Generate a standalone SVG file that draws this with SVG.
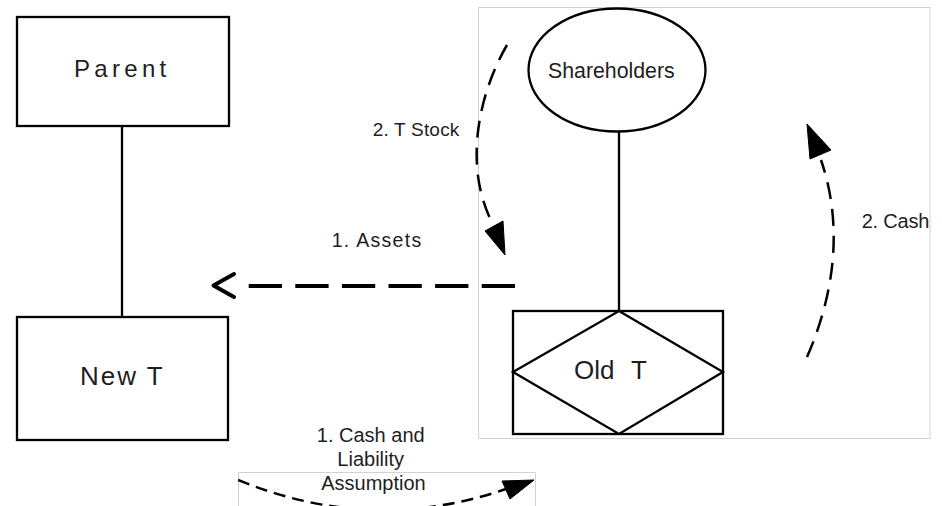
<svg xmlns="http://www.w3.org/2000/svg" width="942" height="506" viewBox="0 0 942 506">
  <style>
    .box { fill: #ffffff; stroke: #000000; stroke-width: 2.3; }
    .frame { fill: none; stroke: #d2d2d2; stroke-width: 1; }
    .link { fill: none; stroke: #000000; stroke-width: 2.3; }
    .flow { fill: none; stroke: #000000; stroke-width: 2.5; stroke-dasharray: 17 10; }
    .flow-bold { fill: none; stroke: #000000; stroke-width: 4; stroke-dasharray: 33.3 13.3; }
    .head { fill: #000000; stroke: #000000; stroke-width: 1; stroke-linejoin: round; }
    .lbl { font-family: "Liberation Sans", Arial, sans-serif; fill: #1e1e1e; }
  </style>
  <defs>
    <clipPath id="lowerPanel">
      <rect x="238" y="472" width="297" height="40"/>
    </clipPath>
  </defs>

  <rect width="942" height="506" fill="#ffffff"/>

  <!-- panel outlines -->
  <rect class="frame" x="478.5" y="7.5" width="451.5" height="431"/>
  <path class="frame" d="M238.5,506 V472.5 H535.5 V506"/>

  <!-- structure lines and transfer arrows -->
  <g id="connectors">
    <line class="link" x1="122" y1="126" x2="122" y2="317"/>
    <line class="link" x1="619" y1="131.5" x2="619" y2="311"/>

    <!-- 1. Assets -->
    <path class="flow-bold" d="M515,286 H247"/>
    <polyline points="234,274 213.5,285.5 234,297" fill="none" stroke="#000" stroke-width="4" stroke-linecap="round" stroke-linejoin="round"/>

    <!-- 2. T Stock -->
    <path class="flow" d="M507,45 C478,95 462,170 495,228"/>
    <polygon class="head" points="505,255 485,231 503,221"/>

    <!-- 2. Cash -->
    <path class="flow" d="M807,357 C832,300 845,230 821,160"/>
    <polygon class="head" points="807,124 810,159 831,150"/>

    <!-- 1. Cash and Liability Assumption -->
    <g clip-path="url(#lowerPanel)">
      <path class="flow" style="stroke-dasharray: 12 7" d="M238,480 Q372,535 506,489"/>
    </g>
    <polygon class="head" points="534,480 502,481 510,499"/>

    <text class="lbl" x="372.7" y="135.7" font-size="19" letter-spacing="0.2">2. T Stock</text>
    <text class="lbl" x="331.7" y="246.7" font-size="19.5" letter-spacing="1.3">1. Assets</text>
    <text class="lbl" x="861.7" y="228.3" font-size="20" letter-spacing="-0.2">2. Cash</text>
    <text class="lbl" font-size="20" text-anchor="middle">
      <tspan x="373.5" y="441.7">1. Cash and</tspan>
      <tspan x="373.5" y="465.7">Liability</tspan>
      <tspan x="373.5" y="490">Assumption</tspan>
    </text>
  </g>

  <g id="parent">
    <rect class="box" x="17" y="17" width="212" height="109"/>
    <text class="lbl" x="74" y="77" font-size="24" letter-spacing="4.3">Parent</text>
  </g>

  <g id="new-t">
    <rect class="box" x="17" y="317" width="211" height="123"/>
    <text class="lbl" x="80" y="385" font-size="26" letter-spacing="2">New T</text>
  </g>

  <g id="shareholders">
    <ellipse class="box" cx="617" cy="70" rx="88.5" ry="61.5"/>
    <text class="lbl" x="548" y="77.5" font-size="21.3">Shareholders</text>
  </g>

  <g id="old-t">
    <rect class="box" x="513" y="311" width="210" height="123"/>
    <polygon class="box" fill="none" points="619,311 723,372 619,434 513,372"/>
    <text class="lbl" y="379" font-size="26"><tspan x="574">Old</tspan><tspan x="631">T</tspan></text>
  </g>
</svg>
